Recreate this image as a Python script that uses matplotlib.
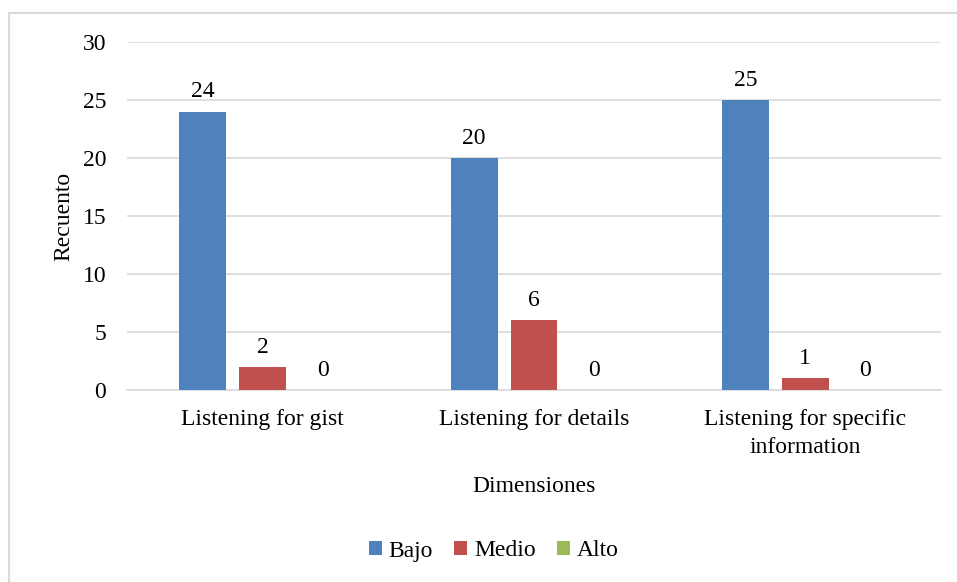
import numpy as np
import matplotlib.pyplot as plt
from matplotlib.patches import Rectangle

categories = ["Listening for gist", "Listening for details", "Listening for specific\ninformation"]
series_names = ["Bajo", "Medio", "Alto"]
bajo = [24, 20, 25]
medio = [2, 6, 1]
alto = [0, 0, 0]
colors = ["#4F81BD", "#C0504D", "#9BBB59"]

plt.rcParams["font.family"] = ["Liberation Serif", "DejaVu Serif"]
fs = 17

fig = plt.figure(figsize=(9.57, 5.82), dpi=100)
ax = fig.add_axes([0.1327, 0.3299, 0.8506, 0.5979])

# outer chart border (only top/left visible in the crop)
fig.patches.append(Rectangle((9 / 957, -0.05), 1.1, (582 - 13) / 582 + 0.05,
                             transform=fig.transFigure, fill=False,
                             edgecolor="#D9D9D9", linewidth=1.5))

x = np.arange(len(categories))
width = 0.173
step = 0.221
for i, (vals, name, c) in enumerate(zip([bajo, medio, alto], series_names, colors)):
    pos = x + (i - 1) * step
    ax.bar(pos, vals, width, color=c, label=name, zorder=3)
    for p, v in zip(pos, vals):
        ax.text(p, v + 0.8, str(v), ha="center", va="bottom", fontsize=fs)

ax.set_xlim(-0.5, 2.5)
ax.set_ylim(0, 30)
ax.set_yticks(range(0, 31, 5))
ax.set_xticks(x)
ax.set_xticklabels(categories, fontsize=fs, linespacing=1.4)
ax.tick_params(axis="y", labelsize=fs, length=0, pad=15)
ax.tick_params(axis="x", length=0, pad=14)
ax.grid(axis="y", color="#D9D9D9", linewidth=1.2, zorder=0)
for s in ["top", "right", "left"]:
    ax.spines[s].set_visible(False)
ax.spines["bottom"].set_color("#D9D9D9")
ax.spines["bottom"].set_linewidth(1.2)

ax.set_ylabel("Recuento", fontsize=fs, labelpad=6)
ax.set_xlabel("Dimensiones", fontsize=fs, labelpad=13)

fig.legend(loc="center", bbox_to_anchor=(0.516, 1 - 551 / 582), ncol=3, frameon=False,
           fontsize=fs, handlelength=0.55, handleheight=0.55, handletextpad=0.3,
           columnspacing=0.9)

fig.savefig("out.png", dpi=100)
